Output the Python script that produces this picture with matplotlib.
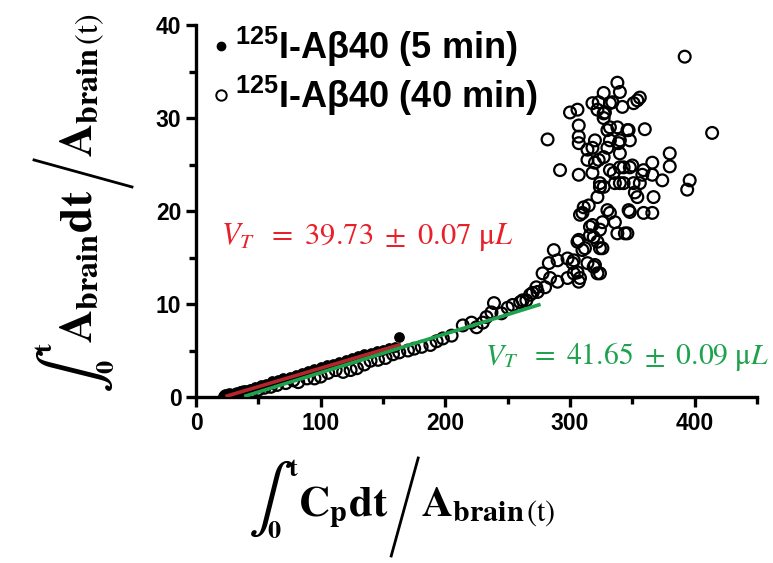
import numpy as np
import matplotlib
matplotlib.use("Agg")
import matplotlib.pyplot as plt
from matplotlib.font_manager import FontProperties
from matplotlib.lines import Line2D
from matplotlib.transforms import IdentityTransform

# 125I-Abeta40, 5 min (filled)
x_5min = [22, 25, 28, 31, 35, 39, 43, 47, 52, 56, 61, 66, 70, 75, 80, 85, 90, 95, 100, 105,
          110, 115, 120, 125, 130, 135, 140, 145, 150, 155, 160, 163]
y_5min = [0.1, 0.2, 0.3, 0.4, 0.6, 0.8, 0.9, 1.1, 1.3, 1.4, 1.7, 1.8, 2.0, 2.2, 2.4, 2.6, 2.8, 3.0, 3.2, 3.4,
          3.6, 3.8, 4.0, 4.2, 4.4, 4.6, 4.7, 4.9, 5.1, 5.3, 5.4, 6.5]

# 125I-Abeta40, 40 min (open)
x_40min = [24, 27, 33, 38, 44, 50, 55, 60, 65, 72, 78, 82, 89, 95, 100, 106, 112, 118, 124, 129,
           135, 140, 146, 152, 158, 163,
           170, 175, 181, 188, 193, 198, 205, 214, 221, 225, 230, 233, 237, 239, 245, 250, 254, 260,
           265, 268, 270, 273, 262, 274,
           278, 280, 283, 284, 287, 290, 290, 298, 298, 302, 306, 308, 306, 310, 314, 320, 322, 324,
           303, 303, 307, 319, 312, 316, 322, 324, 324, 318, 319, 307, 326, 316, 326, 336, 338, 344,
           346, 348, 347, 330, 332, 310, 315, 311, 308, 322, 327, 336, 324, 343, 335, 356, 354, 352,
           359, 366, 367, 374, 366, 358, 366, 380, 380, 350, 343, 348, 340, 332, 359, 318, 324, 340,
           351, 307, 292, 282, 314, 323, 320, 327, 330, 318, 314, 340, 320, 332, 340, 348, 339, 307,
           307, 307, 330, 332, 338, 347, 346, 360, 327, 300, 306, 322, 328, 327, 318, 323, 332, 334,
           342, 351, 354, 356, 327, 338, 340, 392, 414, 396, 394]
y_40min = [0.1, 0.2, 0.3, 0.5, 0.6, 0.8, 1.0, 1.1, 1.3, 1.5, 1.8, 1.6, 2.0, 2.0, 2.2, 2.6, 2.9, 2.7, 2.9, 3.1,
           3.5, 3.9, 4.0, 4.2, 4.6, 4.8,
           5.0, 5.2, 5.4, 5.6, 6.0, 6.3, 6.6, 7.7, 8.0, 7.5, 8.0, 8.6, 9.1, 10.1, 9.0, 9.6, 9.9, 10.2,
           10.4, 11.0, 11.2, 11.8, 10.4, 11.3,
           13.3, 11.8, 14.4, 12.8, 15.8, 14.7, 12.4, 14.9, 12.8, 14.4, 13.4, 12.8, 16.7, 15.8, 14.4, 14.2, 13.3, 13.3,
           14.7, 13.3, 12.4, 14.0, 16.0, 17.4, 16.7, 16.0, 18.0, 18.5, 17.2, 16.9, 16.0, 18.3, 18.8, 18.8, 17.6, 17.6,
           17.6, 19.9, 20.1, 20.1, 19.8, 19.8, 20.6, 20.4, 19.6, 21.5, 22.6, 23.0, 22.6, 23.0, 24.1, 23.0, 21.5, 22.0,
           19.8, 19.8, 21.5, 23.3, 23.9, 23.9, 25.2, 24.8, 26.2, 24.9, 24.7, 24.7, 24.7, 24.4, 24.4, 24.1, 23.0, 23.0,
           23.0, 23.9, 24.4, 27.7, 25.5, 25.5, 25.2, 25.8, 26.8, 26.8, 26.6, 26.2, 27.6, 27.6, 27.6, 27.6, 27.3, 28.0,
           27.3, 29.2, 28.7, 29.0, 29.0, 28.7, 28.7, 28.8, 30.0, 30.6, 30.9, 30.9, 30.6, 30.5, 31.6, 31.7, 31.6, 31.7,
           31.2, 31.6, 31.9, 32.2, 32.7, 33.8, 32.8, 36.6, 28.4, 23.3, 22.3]

# linear fits (slope, x-intercept, end)
fit_5min = dict(slope=0.03973, x0=22, x_end=163)
fit_40min = dict(slope=0.04165, x0=37, x_end=275)
label_5min = r"$V_T\ \ =\ 39.73\ \pm\ 0.07\ \mathrm{\mu}L$"
label_40min = r"$V_T\ \ =\ 41.65\ \pm\ 0.09\ \mathrm{\mu}L$"
legend_labels = ["$^{\\mathbf{125}}$I-A\u03b240 (5 min)", "$^{\\mathbf{125}}$I-A\u03b240 (40 min)"]

plt.rcParams["mathtext.fontset"] = "custom"
plt.rcParams["mathtext.bf"] = "Liberation Sans:bold"
plt.rcParams["mathtext.rm"] = "Liberation Sans"

red_txt = "#e8202a"
red_line = "#b5262b"
green = "#1ea24e"
H = 563

fig = plt.figure(figsize=(7.73, 5.63), dpi=100)
ax = fig.add_axes([0.2536, 0.2948, 0.7257, 0.6607])

ax.scatter(x_40min, y_40min, s=72, facecolors="none", edgecolors="black", linewidths=1.6, zorder=2)
ax.scatter(x_5min, y_5min, s=45, color="black", zorder=3)

for f, c in [(fit_5min, red_line), (fit_40min, green)]:
    xs = np.array([f["x0"] + 3, f["x_end"]])
    ax.plot(xs, f["slope"] * (xs - f["x0"]), color=c, lw=2.6, zorder=4)

ax.text(20, 17.2, label_5min, color=red_txt, fontsize=22, math_fontfamily="stix", va="center")
ax.text(232, 4.4, label_40min, color=green, fontsize=21.3, math_fontfamily="stix", va="center")

ax.set_xlim(0, 450)
ax.set_ylim(0, 40)
ax.set_xticks([0, 100, 200, 300, 400])
ax.set_xticks([50, 150, 250, 350, 450], minor=True)
ax.set_yticks([0, 10, 20, 30, 40])
ax.set_yticks([5, 15, 25, 35], minor=True)
for s in ["top", "right"]:
    ax.spines[s].set_visible(False)
for s in ["left", "bottom"]:
    ax.spines[s].set_linewidth(2.4)
ax.tick_params(which="major", length=7, width=2.4, direction="out")
ax.tick_params(which="minor", length=5, width=2.4, direction="out")
for lab in ax.get_xticklabels() + ax.get_yticklabels():
    lab.set_fontfamily("Liberation Sans")
    lab.set_fontweight("bold")
    lab.set_fontsize(16.5)

handles = [
    Line2D([], [], ls="none", marker="o", color="black", markersize=6),
    Line2D([], [], ls="none", marker="o", mfc="none", mec="black", mew=1.4, markersize=7.5),
]
prop = FontProperties(family="Liberation Sans", weight="bold", size=26, math_fontfamily="custom")
ax.legend(handles, legend_labels, prop=prop, loc="upper left", bbox_to_anchor=(-0.004, 1.05),
          frameon=False, handlelength=0.5, handletextpad=0.15, labelspacing=0.13, borderpad=0)


def axis_label(x0, y0, text1, text2, rotated, size=34, int_size=48):
    # x0, y0: baseline start in screen pixels (y measured from top)
    tr = IdentityTransform()
    rot = 90 if rotated else 0
    Y0 = H - y0

    def pos(u, v):
        return (x0 - v, Y0 + u) if rotated else (x0 + u, Y0 + v)

    def put(u, v, s, fs, **kw):
        return fig.text(*pos(u, v), s, fontsize=fs, rotation=rot, rotation_mode="anchor",
                        transform=tr, math_fontfamily="stix", **kw)

    def extent(t):
        fig.canvas.draw()
        bb = t.get_window_extent(fig.canvas.get_renderer())
        if rotated:
            return bb.height, x0 - bb.x1, x0 - bb.x0
        return bb.width, bb.y0 - Y0, bb.y1 - Y0

    t_int = put(0, 0, r"$\int$", int_size, ha="left", va="baseline")
    ln, lo, hi = extent(t_int)
    put(ln + 1, hi - 10, r"$\mathbf{t}$", 19, ha="center", va="center")
    put(ln * 0.6, lo + 8, r"$\mathbf{0}$", 19, ha="center", va="center")
    t1 = put(ln + 5, 0, text1, size, ha="left", va="baseline")
    l1, _, _ = extent(t1)
    us = ln + 5 + l1 + 3
    p0, p1 = pos(us, -40), pos(us + 27, 58)
    fig.add_artist(Line2D([p0[0], p1[0]], [p0[1], p1[1]], transform=tr, color="black", lw=2.0))
    put(us + 30, 0, text2, size, ha="left", va="baseline")


axis_label(248, 516, r"$\mathbf{C}_{\mathbf{p}}\mathbf{dt}$",
           r"$\mathbf{A}_{\mathbf{brain}\,(\mathrm{t})}$", rotated=False, size=31)
axis_label(92, 393, r"$\mathbf{A}_{\mathbf{brain}}\mathbf{dt}$",
           r"$\mathbf{A}_{\mathbf{brain}\,(\mathrm{t})}$", rotated=True, size=33)

fig.savefig("out.png", dpi=100)
